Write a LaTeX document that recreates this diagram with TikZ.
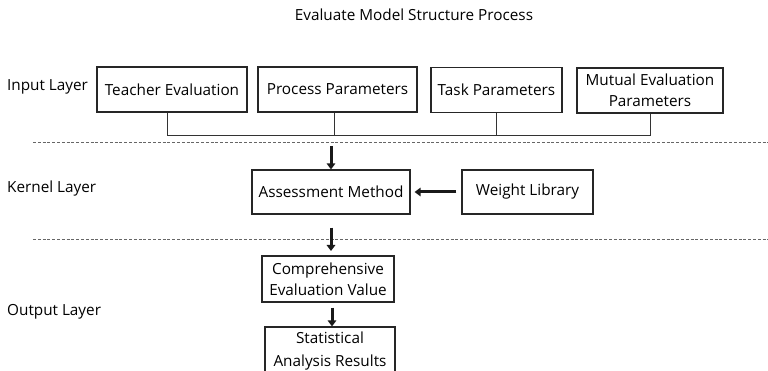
\documentclass[tikz,border=0pt]{standalone}
\usepackage{fontspec}
\setmainfont{Open Sans}
\usetikzlibrary{arrows.meta}
\begin{document}
\begin{tikzpicture}[x=1pt,y=-1pt,
  every node/.style={font=\fontsize{15.3}{18}\selectfont, text=black, inner sep=0pt},
  box/.style={draw=black!85, line width=1.2pt, minimum height=45pt, align=center},
  conn/.style={draw=black!80, line width=1pt},
  sep/.style={draw=black!60, line width=1pt, dash pattern=on 3pt off 1.8pt},
  bigarrow/.style={draw=black!90, line width=3pt, -{Triangle[width=8.5pt,length=6pt]}},
  lbl/.style={anchor=west}]
\useasboundingbox (0,0) rectangle (768,371);
\node (title) at (414,15) {Evaluate Model Structure Process};
\node[lbl] (inl) at (7,87) {Input Layer};
\node[lbl] (kel) at (7,189) {Kernel Layer};
\node[lbl] (oul) at (7,312) {Output Layer};

\node[box, minimum width=150pt] (teacher) at (172,89.5) {Teacher Evaluation};
\node[box, minimum width=159pt] (process) at (337.5,89.5) {Process Parameters};
\node[box, minimum width=131pt] (task) at (496.5,90) {Task Parameters};
\node[box, minimum width=146pt] (mutual) at (650,90.5) {Mutual Evaluation\\[3pt]Parameters};

\coordinate (jt) at (167,136);
\coordinate (jm) at (650,136);
\draw[conn] (teacher.south -| jt) -- (jt) -- (jm) -- (mutual.south);
\draw[conn] (process.south -| 334,0) -- (334,136);
\draw[conn] (task.south) -- (task.south |- jt);

\coordinate (d1a) at (33,143);
\coordinate (d1b) at (768,143);
\draw[sep] (d1a) -- (d1b);
\coordinate (d2a) at (33,240);
\coordinate (d2b) at (768,240);
\draw[sep] (d2a) -- (d2b);

\node[box, minimum width=158pt, minimum height=44pt] (assess) at (331,192) {Assessment Method};
\node[box, minimum width=131pt, minimum height=44pt] (weight) at (527.5,192) {Weight Library};

\coordinate (a1s) at (331,146);
\draw[bigarrow] (a1s) -- (assess.north);
\draw[bigarrow] ([xshift=-5pt]weight.west) -- ([xshift=4pt]assess.east);

\node[box, minimum width=132pt, minimum height=46pt] (comp) at (328,279) {Comprehensive\\[3pt]Evaluation Value};
\coordinate (a2e) at (331,251);
\draw[bigarrow] ([yshift=-13pt]assess.south) -- (a2e);

\node[box, minimum width=130pt, minimum height=48pt] (stat) at (330,351) {Statistical\\[5pt]Analysis Results};
\draw[bigarrow] ([xshift=4pt,yshift=-5pt]comp.south) -- ([xshift=2pt]stat.north);
\end{tikzpicture}
\end{document}
